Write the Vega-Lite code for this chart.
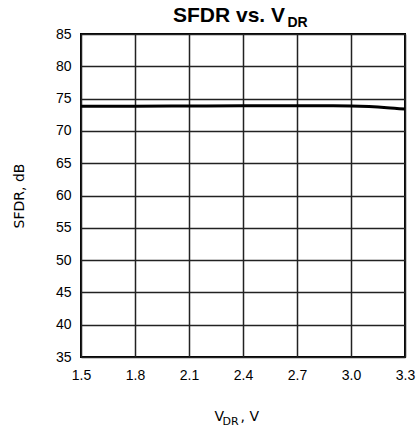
{
  "$schema": "https://vega.github.io/schema/vega-lite/v6.json",
  "width": 324,
  "height": 323,
  "autosize": "none",
  "padding": {"left": 81, "top": 34, "right": 12, "bottom": 72},
  "background": "white",
  "title": {"text": "SFDR vs. V", "anchor": "start", "frame": "group", "dx": 92, "font": "Liberation Sans", "fontSize": 21, "fontWeight": "bold", "color": "black", "offset": -11},
  "config": {"view": {"stroke": "black", "strokeWidth": 2}},
  "data": {"values": [
    {"vdr": 1.5, "sfdr": 73.8},
    {"vdr": 1.8, "sfdr": 73.82},
    {"vdr": 2.1, "sfdr": 73.85},
    {"vdr": 2.4, "sfdr": 73.88},
    {"vdr": 2.7, "sfdr": 73.9},
    {"vdr": 2.9, "sfdr": 73.9},
    {"vdr": 3.0, "sfdr": 73.86},
    {"vdr": 3.1, "sfdr": 73.76},
    {"vdr": 3.2, "sfdr": 73.6},
    {"vdr": 3.3, "sfdr": 73.38}
  ]},
  "layer": [
    {
      "mark": {"type": "line", "color": "black", "strokeWidth": 3, "interpolate": "monotone"},
      "encoding": {
        "x": {"field": "vdr", "type": "quantitative", "scale": {"domain": [1.5, 3.3], "nice": false, "zero": false},
          "axis": {"orient": "bottom", "values": [1.5, 1.8, 2.1, 2.4, 2.7, 3.0, 3.3], "format": ".1f", "labelFlush": false, "labelOverlap": false, "ticks": false, "domain": false, "grid": true, "gridColor": "#222", "gridWidth": 1.5, "labelFont": "Liberation Sans", "labelFontSize": 14, "labelColor": "black", "labelPadding": 11,
            "title": "V", "titleFont": "DejaVu Sans", "titleFontSize": 14, "titleFontWeight": "normal", "titleAlign": "left", "titleBaseline": "alphabetic", "titleX": 133, "titleY": 63, "titleColor": "black"}},
        "y": {"field": "sfdr", "type": "quantitative", "scale": {"domain": [35, 85], "nice": false, "zero": false},
          "axis": {"orient": "left", "values": [35, 40, 45, 50, 55, 60, 65, 70, 75, 80, 85], "labelOverlap": false, "ticks": false, "domain": false, "grid": true, "gridColor": "#222", "gridWidth": 1.5, "labelFont": "Liberation Sans", "labelFontSize": 14, "labelColor": "black", "labelPadding": 10,
            "title": "SFDR, dB", "titleFont": "DejaVu Sans", "titleFontSize": 14, "titleFontWeight": "normal", "titleAngle": 270, "titleAlign": "center", "titleBaseline": "alphabetic", "titleX": -58, "titleY": 161.5, "titleColor": "black"}}
      }
    },
    {
      "mark": {"type": "line", "opacity": 0},
      "encoding": {
        "x": {"field": "vdr", "type": "quantitative",
          "axis": {"orient": "top", "labels": false, "ticks": false, "domain": false, "grid": false,
            "title": "DR", "titleFont": "DejaVu Sans", "titleFontSize": 11, "titleFontWeight": "normal", "titleAlign": "left", "titleBaseline": "alphabetic", "titleX": 141, "titleY": 390, "titleColor": "black"}},
        "y": {"field": "sfdr", "type": "quantitative",
          "axis": {"orient": "right", "labels": false, "ticks": false, "domain": false, "grid": false,
            "title": "DR", "titleFont": "Liberation Sans", "titleFontSize": 14, "titleFontWeight": "bold", "titleAngle": 0, "titleAlign": "left", "titleBaseline": "alphabetic", "titleX": -118, "titleY": -8, "titleColor": "black"}}
      }
    },
    {
      "mark": {"type": "line", "opacity": 0},
      "encoding": {
        "x": {"field": "vdr", "type": "quantitative",
          "axis": {"orient": "bottom", "labels": false, "ticks": false, "domain": false, "grid": false,
            "title": ", V", "titleFont": "DejaVu Sans", "titleFontSize": 14, "titleFontWeight": "normal", "titleAlign": "left", "titleBaseline": "alphabetic", "titleX": 159, "titleY": 63, "titleColor": "black"}},
        "y": {"field": "sfdr", "type": "quantitative", "axis": null}
      }
    }
  ],
  "resolve": {"axis": {"x": "independent", "y": "independent"}}
}
